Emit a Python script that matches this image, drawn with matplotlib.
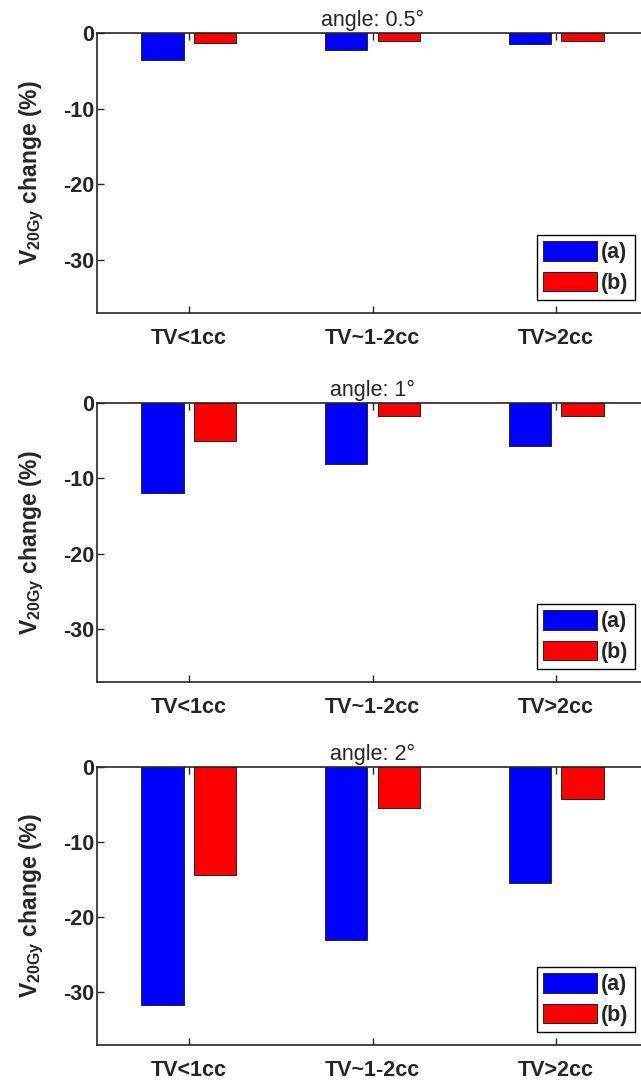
import numpy as np
import matplotlib.pyplot as plt

plt.rcParams['font.family'] = ['Liberation Sans', 'DejaVu Sans']
plt.rcParams['mathtext.fontset'] = 'custom'
plt.rcParams['mathtext.rm'] = 'Liberation Sans:bold'
plt.rcParams['mathtext.bf'] = 'Liberation Sans:bold'
plt.rcParams['axes.unicode_minus'] = False

# data
categories = ['TV<1cc', 'TV~1-2cc', 'TV>2cc']
angles = ['0.5°', '1°', '2°']
series_a = [[-3.6, -2.3, -1.4],
            [-11.9, -8.1, -5.7],
            [-31.7, -23.0, -15.4]]
series_b = [[-1.3, -1.0, -1.0],
            [-5.1, -1.7, -1.7],
            [-14.4, -5.4, -4.2]]
yticks = [-30, -20, -10, 0]

dark = '#262626'
fig = plt.figure(figsize=(6.41, 10.82), dpi=100)

# panel boxes in pixels: (top, bottom)
boxes = [(33, 313), (403, 682), (767, 1045)]
W, H = 641, 1082
left, right = 97, 648

x = np.arange(1, len(categories) + 1)
off = 0.143
bw = 0.23

for i, (top, bot) in enumerate(boxes):
    ax = fig.add_axes([left / W, 1 - bot / H, (right - left) / W, (bot - top) / H])
    ax.bar(x - off, series_a[i], bw, color='#0000ff', edgecolor=dark, linewidth=0.7, label='(a)')
    ax.bar(x + off, series_b[i], bw, color='#ff0000', edgecolor=dark, linewidth=0.7, label='(b)')
    ax.set_xlim(0.5, 3.5)
    ax.set_ylim(-37, 0)
    ax.set_xticks(x)
    ax.set_xticklabels(categories)
    ax.set_yticks(yticks)
    ax.tick_params(direction='in', length=5, width=1, color=dark, top=True, right=True,
                   labelsize=15.5, labelcolor=dark)
    ax.tick_params(axis='x', pad=11)
    ax.tick_params(axis='y', pad=2)
    for lab in ax.get_xticklabels() + ax.get_yticklabels():
        lab.set_fontweight('bold')
    for sp in ax.spines.values():
        sp.set_color(dark)
        sp.set_linewidth(1.2)
    ax.set_title('angle: ' + angles[i], fontsize=15.5, color=dark, pad=5)
    ax.set_ylabel(r'$\mathbf{V_{20Gy}}$ change (%)', fontsize=16.5, fontweight='bold', color=dark)
    ax.yaxis.set_label_coords(-0.093, 0.5)
    leg = ax.legend(loc='lower right', prop={'weight': 'bold', 'size': 15.5},
                    fancybox=False, edgecolor='black', framealpha=1,
                    handlelength=2.5, handleheight=1.0, handletextpad=0.2,
                    labelspacing=0.38, borderpad=0.3, borderaxespad=0.6)
    leg.get_frame().set_linewidth(1.0)
    for t in leg.get_texts():
        t.set_color(dark)

fig.savefig('out.png', dpi=100)
